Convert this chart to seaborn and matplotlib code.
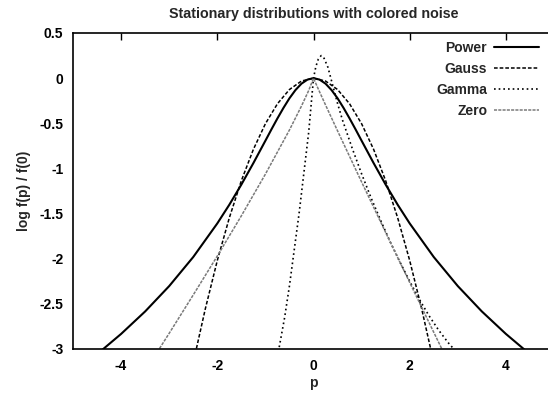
import matplotlib
matplotlib.use("Agg")
import matplotlib.pyplot as plt
import seaborn as sns
import pandas as pd

# Stationary log-densities log f(p)/f(0) for four kinds of coloured noise
power_p = [-4.4, -4.0, -3.5, -3.0, -2.5, -2.0, -1.75, -1.5, -1.25, -1.0, -0.875, -0.75, -0.625,
           -0.5, -0.375, -0.25, -0.125, 0.0, 0.125, 0.25, 0.375, 0.5, 0.625, 0.75, 0.875, 1.0,
           1.25, 1.5, 1.75, 2.0, 2.5, 3.0, 3.5, 4.0, 4.4]
power_f = [-3.013, -2.833, -2.584, -2.303, -1.981, -1.609, -1.402, -1.179, -0.941, -0.693, -0.568,
           -0.446, -0.330, -0.223, -0.132, -0.061, -0.016, 0.0, -0.016, -0.061, -0.132, -0.223,
           -0.330, -0.446, -0.568, -0.693, -0.941, -1.179, -1.402, -1.609, -1.981, -2.303, -2.584,
           -2.833, -3.013]

gauss_p = [-2.46, -2.25, -2.0, -1.75, -1.5, -1.25, -1.0, -0.75, -0.5, -0.25, 0.0,
           0.25, 0.5, 0.75, 1.0, 1.25, 1.5, 1.75, 2.0, 2.25, 2.46]
gauss_f = [-3.056, -2.557, -2.020, -1.547, -1.136, -0.789, -0.505, -0.284, -0.126, -0.032, 0.0,
           -0.032, -0.126, -0.284, -0.505, -0.789, -1.136, -1.547, -2.020, -2.557, -3.056]

gamma_p = [-0.73, -0.6, -0.5, -0.4, -0.3, -0.2, -0.1, -0.05, 0.0, 0.05, 0.1, 0.16, 0.22, 0.3,
           0.4, 0.5, 0.6, 0.8, 1.0, 1.2, 1.4, 1.6, 1.8, 2.0, 2.2, 2.4, 2.6, 2.8, 2.95]
gamma_f = [-3.03, -2.65, -2.30, -1.90, -1.50, -1.05, -0.60, -0.30, 0.0, 0.13, 0.21, 0.25, 0.22,
           0.12, -0.08, -0.28, -0.46, -0.77, -1.06, -1.33, -1.58, -1.82, -2.04, -2.25, -2.45,
           -2.63, -2.79, -2.93, -3.02]

zero_p = [-3.25, -3.0, -2.5, -2.0, -1.5, -1.0, -0.5, -0.25, -0.1, 0.0,
          0.1, 0.25, 0.5, 1.0, 1.5, 2.0, 2.5, 2.7]
zero_f = [-3.035, -2.826, -2.401, -1.970, -1.525, -1.063, -0.574, -0.309, -0.137, 0.0,
          -0.121, -0.297, -0.584, -1.150, -1.709, -2.263, -2.815, -3.034]

x_ticks = [-4, -2, 0, 2, 4]
x_tick_labels = ["-4", "-2", "0", "2", "4"]
y_ticks = [0.5, 0.0, -0.5, -1.0, -1.5, -2.0, -2.5, -3.0]
y_tick_labels = ["0.5", "0", "-0.5", "-1", "-1.5", "-2", "-2.5", "-3"]

series = [
    ("Power", power_p, power_f, dict(color="black", lw=1.5, ls="-")),
    ("Gauss", gauss_p, gauss_f, dict(color="black", lw=1.1, dashes=(2.4, 1.3))),
    ("Gamma", gamma_p, gamma_f, dict(color="black", lw=1.2, dashes=(1.0, 1.8))),
    ("Zero", zero_p, zero_f, dict(color="#7a7a7a", lw=1.1, dashes=(2.0, 0.8))),
]

sns.set_style("white")
plt.rcParams["font.family"] = ["Liberation Sans", "DejaVu Sans"]
plt.rcParams["font.weight"] = "bold"
plt.rcParams["axes.unicode_minus"] = False

fig = plt.figure(figsize=(5.48, 3.96), dpi=100)
ax = fig.add_axes([73 / 548, 47 / 396, 481 / 548, 316 / 396])

for name, xs, ys, style in series:
    df = pd.DataFrame({"p": xs, "f": ys})
    sns.lineplot(data=df, x="p", y="f", ax=ax, sort=False, label=name, **style)

ax.set_xlim(-5, 5)
ax.set_ylim(-3, 0.5)
ax.set_xticks(x_ticks)
ax.set_xticklabels(x_tick_labels)
ax.set_yticks(y_ticks)
ax.set_yticklabels(y_tick_labels)

for side in ["top", "bottom", "left", "right"]:
    ax.spines[side].set_visible(True)
    ax.spines[side].set_color("black")
    ax.spines[side].set_linewidth(1.2)

ax.tick_params(axis="both", direction="in", length=5, width=1.0, top=True, right=False,
               labelsize=10, colors="black")
ax.tick_params(axis="x", pad=7)
ax.tick_params(axis="y", pad=7)

ax.set_title("Stationary distributions with colored noise", fontsize=10.3, fontweight="bold", pad=11)
ax.set_xlabel("p", fontsize=10, fontweight="bold", labelpad=2)
ax.set_ylabel("log f(p) / f(0)", fontsize=10, fontweight="bold", labelpad=6)

leg = ax.legend(loc="upper right", bbox_to_anchor=(0.968, 0.975), frameon=False,
                markerfirst=False, handlelength=3.2, handletextpad=0.5, labelspacing=0.5,
                borderpad=0, borderaxespad=0, fontsize=10)

fig.savefig("out.png", dpi=100)
